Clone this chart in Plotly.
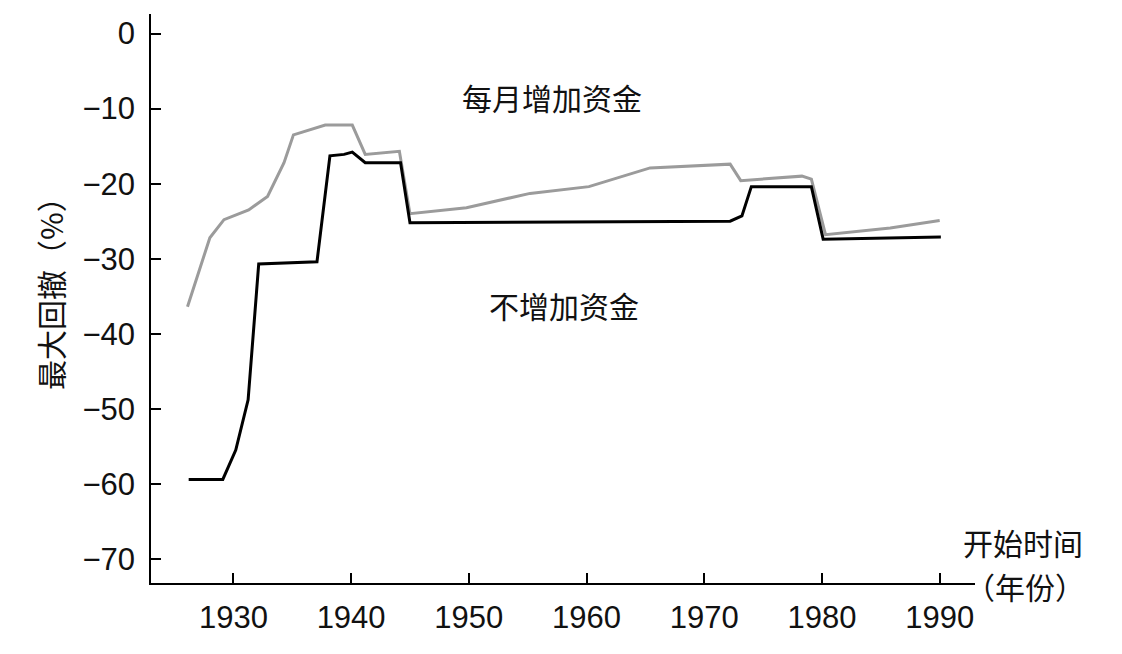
import plotly.graph_objects as go

# 每月增加资金 (gray)
monthly_years = [1926.1, 1928.0, 1929.2, 1931.3, 1932.9, 1934.3, 1935.1, 1937.8, 1940.1,
                 1941.2, 1944.1, 1945.0, 1949.8, 1955.2, 1960.2, 1965.4, 1972.2, 1973.1,
                 1978.3, 1979.1, 1980.3, 1985.8, 1990.0]
monthly_dd = [-36.4, -27.2, -24.8, -23.5, -21.7, -17.2, -13.5, -12.2, -12.2,
              -16.1, -15.7, -24.0, -23.2, -21.3, -20.4, -17.9, -17.4, -19.6,
              -19.0, -19.4, -26.8, -25.9, -24.9]

# 不增加资金 (black)
lump_years = [1926.2, 1929.1, 1930.2, 1931.25, 1932.15, 1937.1, 1938.2, 1939.4, 1940.1,
              1941.2, 1944.2, 1945.0, 1972.2, 1973.2, 1974.0, 1979.1, 1980.1, 1990.1]
lump_dd = [-59.4, -59.4, -55.5, -48.8, -30.7, -30.4, -16.3, -16.1, -15.8,
           -17.2, -17.2, -25.2, -25.0, -24.3, -20.4, -20.4, -27.4, -27.1]

x_ticks = [1930, 1940, 1950, 1960, 1970, 1980, 1990]
y_ticks = [0, -10, -20, -30, -40, -50, -60, -70]

cjk = "Noto Sans CJK SC"
num_font = dict(family="Liberation Sans", size=31, color="#111111")
label_font = dict(family=cjk, size=30, color="#111111")

fig = go.Figure()

fig.add_trace(go.Scatter(x=monthly_years, y=monthly_dd, mode="lines",
                         line=dict(color="#9b9b9b", width=3), name="每月增加资金"))
fig.add_trace(go.Scatter(x=lump_years, y=lump_dd, mode="lines",
                         line=dict(color="#000000", width=3), name="不增加资金"))

# page adds ~8px offset, so margins are shifted by that
fig.update_layout(
    width=1122, height=654,
    margin=dict(l=143, r=155, t=6, b=79),
    plot_bgcolor="white", paper_bgcolor="white",
    showlegend=False,
    xaxis=dict(range=[1923.0, 1993.0], tickvals=x_ticks, ticks="inside", ticklen=10,
               tickwidth=1.5, tickcolor="black", showline=True, linecolor="black",
               linewidth=1.5, showgrid=False, zeroline=False, tickfont=num_font,
               ticklabelstandoff=6),
    yaxis=dict(range=[-73.2, 2.6], tickvals=y_ticks, ticks="inside", ticklen=10,
               tickwidth=1.5, tickcolor="black", showline=True, linecolor="black",
               linewidth=1.5, showgrid=False, zeroline=False, tickfont=num_font,
               ticklabelstandoff=8),
)

fig.add_annotation(x=1957.1, y=-8.4, text="每月增加资金", showarrow=False, font=label_font)
fig.add_annotation(x=1958.05, y=-36.2, text="不增加资金", showarrow=False, font=label_font)

# axis titles
fig.add_annotation(xref="paper", yref="paper", x=-0.1226, y=0.522, xanchor="center",
                   yanchor="middle", text="最大回撤（%）", textangle=-90,
                   showarrow=False, font=label_font)
fig.add_annotation(xref="paper", yref="paper", x=0.983, y=0.072, xanchor="left",
                   yanchor="middle", text="开始时间", showarrow=False, font=label_font)
fig.add_annotation(xref="paper", yref="paper", x=0.985, y=-0.005, xanchor="left",
                   yanchor="middle", text="（年份）", showarrow=False, font=label_font)

fig.write_html("out.html")
